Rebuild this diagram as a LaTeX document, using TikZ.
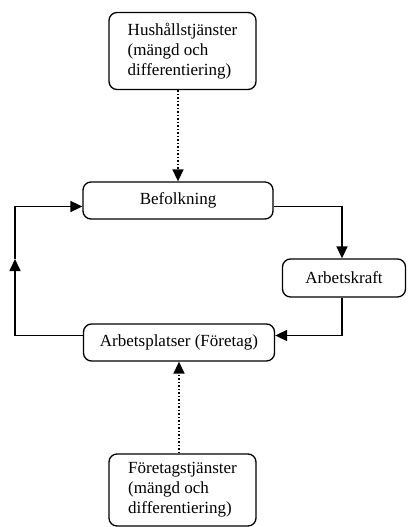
\documentclass[tikz,border=0pt]{standalone}
\usepackage{fontspec}
\setmainfont{Liberation Serif}
\usetikzlibrary{positioning, arrows.meta, calc}

\begin{document}
\begin{tikzpicture}[x=1pt, y=-1pt, >={Triangle[length=12pt,width=11pt]},
    box/.style={draw, rectangle, rounded corners=8pt, line width=1.3pt, font=\fontsize{17}{20}\selectfont},
    flow/.style={->, line width=1.7pt},
    dots/.style={->, dotted, line width=1.5pt}]
    \useasboundingbox (0,0) rectangle (407,527);

    \node[box, minimum width=147pt, minimum height=77pt, align=left] (hush) at (182.5,51) {Hushållstjänster\\(mängd och\\differentiering)};
    \node[box, minimum width=190pt, minimum height=37pt] (bef) at (178,200.5) {Befolkning};
    \node[box, minimum width=123pt, minimum height=38pt] (ak) at (344,278) {Arbetskraft};
    \node[box, minimum width=191pt, minimum height=37pt] (ap) at (179,342.5) {Arbetsplatser (Företag)};
    \node[box, minimum width=147pt, minimum height=72pt, align=left] (ftg) at (182.5,490) {Företagstjänster\\(mängd och\\differentiering)};

    \coordinate (loopmid) at (15,259);

    \draw[dots] (bef.north |- hush.south) -- (bef.north);
    \draw[dots] (ap.south |- ftg.north) -- (ap.south);
    \draw[flow] ([yshift=-6pt]bef.east) -| ([xshift=-2pt]ak.north);
    \draw[flow] ([xshift=-2pt]ak.south) |- ([yshift=7pt]ap.east);
    \draw[flow] ([yshift=7pt]ap.west) -| (loopmid);
    \draw[flow] (loopmid) |- ([yshift=-6pt]bef.west);
\end{tikzpicture}
\end{document}
